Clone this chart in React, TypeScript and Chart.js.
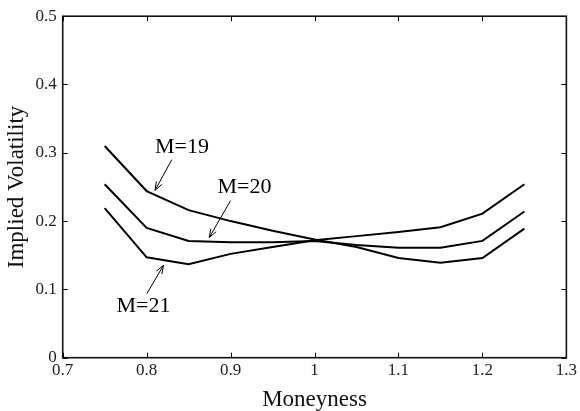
import React, { useEffect, useRef } from 'react';
import { Chart, registerables } from 'chart.js';

Chart.register(...registerables);

// ---- data ----
const moneyness = [0.75, 0.8, 0.85, 0.9, 0.95, 1.0, 1.05, 1.1, 1.15, 1.2, 1.25];
const ivM19 = [0.310, 0.244, 0.216, 0.200, 0.186, 0.173, 0.162, 0.146, 0.139, 0.146, 0.189];
const ivM20 = [0.254, 0.190, 0.171, 0.169, 0.169, 0.171, 0.165, 0.161, 0.161, 0.171, 0.214];
const ivM21 = [0.219, 0.147, 0.137, 0.152, 0.162, 0.172, 0.178, 0.184, 0.191, 0.211, 0.254];
const seriesLabels = ['M=19', 'M=20', 'M=21'];
const xTickValues = [0.7, 0.8, 0.9, 1.0, 1.1, 1.2, 1.3];
const yTickValues = [0, 0.1, 0.2, 0.3, 0.4, 0.5];
const xTitle = 'Moneyness';
const yTitle = 'Implied Volatility';

// annotation anchors (data coordinates)
const annotationText = ['M=19', 'M=20', 'M=21'];
const annotationTextAt = [[0.842, 0.3085], [0.9166, 0.25], [0.7963, 0.0763]];
const arrowFrom = [[0.83, 0.29], [0.9, 0.23], [0.8003, 0.0938]];
const arrowTo = [[0.81, 0.245], [0.8746, 0.176], [0.8201, 0.1354]];

const FONT = '"Liberation Serif", "Times New Roman", Times, serif';

const fmt = (v: number) => String(Number(v.toFixed(2)));

const framePlugin = {
  id: 'frameAndNotes',
  afterDatasetsDraw(chart: any) {
    const { ctx, chartArea, scales } = chart;
    const { left, right, top, bottom } = chartArea;
    const x = scales.x;
    const y = scales.y;
    ctx.save();
    ctx.strokeStyle = '#000';
    ctx.lineWidth = 1;
    const L = 5;
    xTickValues.forEach((v) => {
      const px = Math.round(x.getPixelForValue(v)) + 0.5;
      ctx.beginPath();
      ctx.moveTo(px, bottom);
      ctx.lineTo(px, bottom - L);
      ctx.moveTo(px, top);
      ctx.lineTo(px, top + L);
      ctx.stroke();
    });
    yTickValues.forEach((v) => {
      const py = Math.round(y.getPixelForValue(v)) + 0.5;
      ctx.beginPath();
      ctx.moveTo(left, py);
      ctx.lineTo(left + L, py);
      ctx.moveTo(right, py);
      ctx.lineTo(right - L, py);
      ctx.stroke();
    });
    ctx.lineWidth = 1.6;
    ctx.strokeStyle = '#111';
    ctx.strokeRect(left, top, right - left, bottom - top);

    // annotations
    ctx.fillStyle = '#000';
    ctx.strokeStyle = '#000';
    ctx.font = `22px ${FONT}`;
    ctx.textAlign = 'center';
    ctx.textBaseline = 'middle';
    annotationText.forEach((t, i) => {
      const tx = x.getPixelForValue(annotationTextAt[i][0]);
      const ty = y.getPixelForValue(annotationTextAt[i][1]);
      ctx.fillText(t, tx, ty + 0.7);
      const x0 = x.getPixelForValue(arrowFrom[i][0]);
      const y0 = y.getPixelForValue(arrowFrom[i][1]);
      const x1 = x.getPixelForValue(arrowTo[i][0]);
      const y1 = y.getPixelForValue(arrowTo[i][1]);
      ctx.lineWidth = 1;
      ctx.beginPath();
      ctx.moveTo(x0, y0);
      ctx.lineTo(x1, y1);
      const ang = Math.atan2(y0 - y1, x0 - x1);
      const ah = 9;
      const spread = 0.35;
      ctx.moveTo(x1 + ah * Math.cos(ang + spread), y1 + ah * Math.sin(ang + spread));
      ctx.lineTo(x1, y1);
      ctx.lineTo(x1 + ah * Math.cos(ang - spread), y1 + ah * Math.sin(ang - spread));
      ctx.stroke();
    });
    ctx.restore();
  },
};

export default function App() {
  const canvasRef = useRef<HTMLCanvasElement | null>(null);

  useEffect(() => {
    document.body.style.margin = '0';
    const canvas = canvasRef.current;
    if (!canvas) return;
    const series = [ivM19, ivM20, ivM21];
    const chart = new Chart(canvas, {
      type: 'line',
      data: {
        datasets: series.map((s, i) => ({
          label: seriesLabels[i],
          data: moneyness.map((m, j) => ({ x: m, y: s[j] })),
          borderColor: '#000',
          borderWidth: 2,
          pointRadius: 0,
          tension: 0,
          fill: false,
        })),
      },
      options: {
        responsive: false,
        animation: false,
        devicePixelRatio: 1,
        layout: { padding: { top: 9, right: 11, left: 0, bottom: 0 } },
        plugins: {
          legend: { display: false },
          tooltip: { enabled: false },
        },
        scales: {
          x: {
            type: 'linear',
            min: 0.7,
            max: 1.3,
            afterBuildTicks: (s: any) => {
              s.ticks = xTickValues.map((v) => ({ value: v }));
            },
            afterFit: (s: any) => {
              s.height = 53.3;
            },
            grid: { display: false, drawTicks: false },
            border: { display: false },
            ticks: {
              color: '#222',
              font: { family: FONT, size: 17 },
              padding: 3,
              maxRotation: 0,
              autoSkip: false,
              callback: (v: any) => fmt(Number(v)),
            },
            title: {
              display: true,
              text: xTitle,
              color: '#111',
              font: { family: FONT, size: 23, lineHeight: 1 },
              padding: { top: 0, bottom: 0 },
            },
          },
          y: {
            type: 'linear',
            min: 0,
            max: 0.5,
            afterBuildTicks: (s: any) => {
              s.ticks = yTickValues.map((v) => ({ value: v }));
            },
            afterFit: (s: any) => {
              s.width = 62.7;
            },
            grid: { display: false, drawTicks: false },
            border: { display: false },
            ticks: {
              color: '#222',
              font: { family: FONT, size: 17 },
              padding: 6,
              autoSkip: false,
              callback: (v: any) => fmt(Number(v)),
            },
            title: {
              display: true,
              text: yTitle,
              color: '#111',
              font: { family: FONT, size: 23, lineHeight: 1 },
              padding: { top: 5, bottom: 0 },
            },
          },
        },
      },
      plugins: [framePlugin],
    } as any);
    return () => {
      chart.destroy();
    };
  }, []);

  return (
    <div style={{ width: 580, height: 411, position: 'relative' }}>
      <canvas ref={canvasRef} width={580} height={411} style={{ display: 'block' }} />
    </div>
  );
}
